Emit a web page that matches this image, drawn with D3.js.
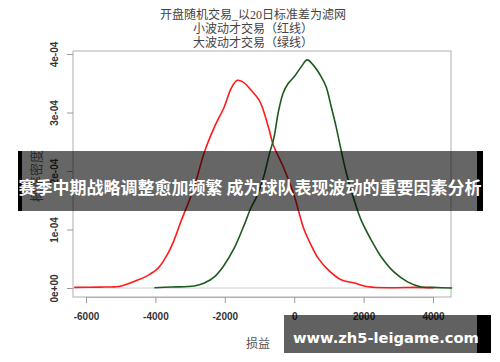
<!DOCTYPE html>
<html>
<head>
<meta charset="utf-8">
<script src="https://cdn.jsdelivr.net/npm/d3@7"></script>
<style>
  body { margin: 0; background: #fff; }
  svg { display: block; }
  .tick-label { font-family: "Liberation Sans", Arial, sans-serif; font-weight: bold; font-size: 10px; fill: #333; }
  .title { font-family: "Liberation Serif", "Noto Sans CJK SC", serif; font-size: 12px; fill: #444; }
</style>
</head>
<body>
<div id="chart"></div>
<script>
// titles / labels
var titleLines = ["开盘随机交易_以20日标准差为滤网", "小波动才交易（红线）", "大波动才交易（绿线）"];
var xLabel = "损益", yLabel = "概率密度";
var bannerText = "赛季中期战略调整愈加频繁 成为球队表现波动的重要因素分析";
var watermark = "www.zh5-leigame.com";

// ticks
var xTicks = [-6000, -4000, -2000, 0, 2000, 4000];
var yTicks = [0, 1e-4, 2e-4, 3e-4, 4e-4];
var yTickLabels = ["0e+00", "1e-04", "2e-04", "3e-04", "4e-04"];

// red line: small volatility
var redX = [-6340, -5600, -5180, -4980, -4490, -4200, -3920, -3630, -3460, -3250, -3020, -2820, -2590, -2300, -2020, -1810, -1640, -1470, -1240, -1010, -890, -720, -600, -300, 0, 120, 290, 490, 690, 980, 1350, 1730, 2130, 2880, 3500, 4030];
var redY = [0.01, 0.015, 0.02, 0.035, 0.14, 0.22, 0.34, 0.60, 0.82, 1.16, 1.50, 1.85, 2.32, 2.75, 3.09, 3.42, 3.55, 3.52, 3.38, 3.21, 3.04, 2.70, 2.44, 2.05, 1.58, 1.33, 0.99, 0.73, 0.51, 0.31, 0.14, 0.085, 0.02, 0.005, 0.01, 0.005];

// green line: large volatility
var greenX = [-4030, -3540, -2880, -2590, -2300, -2020, -1730, -1440, -1240, -1090, -890, -720, -580, -460, -320, -170, 0, 200, 375, 550, 780, 920, 1070, 1210, 1350, 1500, 1730, 1930, 2220, 2510, 2880, 3280, 3660, 4000, 4550];
var greenY = [0.005, 0.017, 0.034, 0.085, 0.19, 0.39, 0.68, 1.08, 1.38, 1.55, 1.88, 2.28, 2.58, 3.00, 3.33, 3.50, 3.61, 3.78, 3.90, 3.81, 3.61, 3.44, 3.09, 2.75, 2.36, 1.97, 1.50, 1.16, 0.82, 0.53, 0.27, 0.10, 0.017, 0.01, 0.0];

var W = 500, H = 362;
var box = {left: 73, right: 451, top: 51, bottom: 297};

var svg = d3.select("#chart")
  .append("svg")
    .attr("width", W)
    .attr("height", H);

var x = d3.scaleLinear()
  .domain([-6000, 4000])
  .range([86, 433]);

var y = d3.scaleLinear()
  .domain([0, 4e-4])
  .range([288, 54]);

// titles
svg.selectAll("text.title")
  .data(titleLines)
  .enter()
  .append("text")
    .classed("title", true)
    .attr("text-anchor", "middle")
    .attr("x", 253)
    .attr("y", function(d, i) { return 19 + i * 14; })
    .text(function(d) { return d; });

// zero line
svg.append("line")
  .attr("x1", box.left).attr("x2", box.right)
  .attr("y1", y(0)).attr("y2", y(0))
  .attr("stroke", "#d0d0d0");

// box
svg.append("rect")
  .attr("x", box.left).attr("y", box.top)
  .attr("width", box.right - box.left)
  .attr("height", box.bottom - box.top)
  .attr("fill", "none")
  .attr("stroke", "#b0b0b0");

// x axis
var xAxis = svg.append("g")
  .attr("transform", "translate(0," + box.bottom + ")")
  .call(d3.axisBottom(x).tickValues(xTicks).tickSize(6).tickPadding(10).tickFormat(d3.format("d")));
xAxis.select(".domain").attr("stroke", "#b0b0b0");
xAxis.selectAll(".tick line").attr("stroke", "#999");
xAxis.selectAll(".tick text").attr("class", "tick-label").attr("font-family", null).attr("font-size", null).attr("fill", null)
  .text(function(d) { return d < 0 ? "-" + Math.abs(d) : d; });

// y axis
var yAxis = svg.append("g")
  .attr("transform", "translate(" + box.left + ",0)")
  .call(d3.axisLeft(y).tickValues(yTicks).tickSize(6).tickFormat(function(d, i) { return yTickLabels[i]; }));
yAxis.select(".domain").remove();
yAxis.selectAll(".tick line").attr("stroke", "#999");
yAxis.selectAll(".tick text")
  .attr("class", "tick-label")
  .attr("font-family", null).attr("font-size", null).attr("fill", null)
  .attr("x", null).attr("dy", null)
  .attr("text-anchor", "middle")
  .attr("transform", "translate(-15,0) rotate(-90)");

// axis titles
svg.append("text")
  .attr("x", 258).attr("y", 348)
  .attr("text-anchor", "middle")
  .attr("font-family", "Noto Sans CJK SC")
  .attr("font-size", 12)
  .attr("fill", "#555")
  .text(xLabel);

svg.append("text")
  .attr("transform", "translate(41,176) rotate(-90)")
  .attr("text-anchor", "middle")
  .attr("font-family", "Noto Sans CJK SC")
  .attr("font-size", 13)
  .attr("fill", "#666")
  .text(yLabel);

// lines
var line = d3.line()
  .x(function(d) { return x(d[0]); })
  .y(function(d) { return y(d[1] * 1e-4); })
  .curve(d3.curveCatmullRom);

svg.append("path")
  .datum(d3.zip(redX, redY))
  .attr("d", line)
  .attr("fill", "none")
  .attr("stroke", "#ff1a1a")
  .attr("stroke-width", 1.6);

svg.append("path")
  .datum(d3.zip(greenX, greenY))
  .attr("d", line)
  .attr("fill", "none")
  .attr("stroke", "#1d5a1d")
  .attr("stroke-width", 1.6);

// banner
svg.append("rect")
  .attr("x", 18).attr("y", 151).attr("width", 465).attr("height", 60)
  .attr("fill", "#000").attr("fill-opacity", 0.6);
svg.append("rect").attr("x", 18).attr("y", 151).attr("width", 4).attr("height", 60).attr("fill", "#000");
svg.append("rect").attr("x", 477).attr("y", 151).attr("width", 6).attr("height", 60).attr("fill", "#000");
svg.append("text")
  .attr("x", 250).attr("y", 194)
  .attr("text-anchor", "middle")
  .attr("font-family", "Noto Sans CJK SC")
  .attr("font-weight", "bold")
  .attr("font-size", 17)
  .attr("fill", "#fff")
  .text(bannerText);

// watermark
svg.append("rect")
  .attr("x", 284).attr("y", 315).attr("width", 207).attr("height", 38)
  .attr("fill", "#000").attr("fill-opacity", 0.62);
svg.append("rect").attr("x", 477).attr("y", 315).attr("width", 14).attr("height", 38).attr("fill", "#000");
var wm = svg.append("text")
  .attr("x", 293).attr("y", 343)
  .attr("font-family", "DejaVu Sans")
  .attr("font-weight", "bold")
  .attr("font-size", 16)
  .attr("fill", "#fff")
  .text(watermark);
var wl = wm.node().getComputedTextLength();
wm.attr("font-size", 16 * 186 / wl);
</script>
</body>
</html>
